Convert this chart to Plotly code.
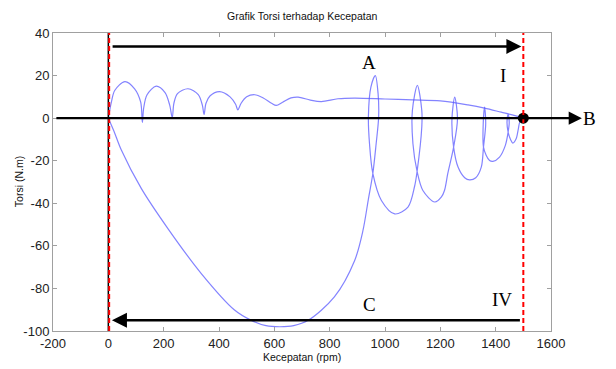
import plotly.graph_objects as go

# ---- data ----
upper_speed = [0, 11, 23, 60, 95, 117, 123, 128, 140, 173, 205, 222, 231, 237, 250, 288, 325, 340, 346,
               353, 368, 402, 440, 460, 468, 480, 500, 529, 560, 590, 607, 630, 660, 686, 730, 770, 830,
               890, 1000, 1100, 1200, 1300, 1360, 1420, 1470, 1500]
upper_torque = [0, 7.5, 13, 17.2, 13.8, 7.5, -2, 5, 11, 15, 12, 6, 0.2, 7, 11.5, 13.8, 11, 6, 1.7,
                7, 10.5, 12.5, 10, 6.5, 3.9, 7, 10, 11, 9.5, 7, 6, 7.5, 9.5, 9.9, 8.5, 7.8, 9.1,
                9.4, 9, 8.6, 8.1, 6.2, 4.7, 2.8, 1.2, 0]

lower_speed = [0, 20, 47, 119, 216, 336, 455, 517, 570, 620, 670, 722, 817, 890, 920, 940, 956, 968, 977, 975,
               965, 949, 940, 944, 956, 987, 1035, 1083, 1107, 1116, 1133, 1133, 1117, 1099, 1101, 1116,
               1137, 1180, 1204, 1215, 1227, 1248, 1262, 1252, 1242, 1248, 1264, 1288, 1306, 1328, 1348,
               1356, 1364, 1360, 1355, 1356, 1366, 1378, 1390, 1414, 1435, 1445, 1449, 1445, 1441, 1445,
               1454, 1462, 1474, 1482, 1487, 1500]
lower_torque = [0, -6, -15, -33, -52, -73, -90, -95, -97.5, -98, -97.5, -95, -84, -67, -53, -38, -26, -12, 0.5, 11.5,
                20, 14.6, 0.5, -12, -26, -38.7, -45, -41.8, -32, -25, -4, 3.6, 15.4, 3.6, -12, -25,
                -34, -39.4, -37, -34, -26, -13.6, -0.3, 9.9, -0.3, -13.6, -23, -28, -29, -28, -23,
                -13.6, -2.6, 5.2, -2.6, -13.6, -17.5, -19.9, -20.3, -18.3, -12.8, -6.6, -1.9, 1.7, -1.9, -6.6,
                -10.1, -11.7, -9.7, -5, -1.9, 0]

sync_speed = [1500]
sync_torque = [0]

x_ticks = [-200, 0, 200, 400, 600, 800, 1000, 1200, 1400, 1600]
x_tick_text = ["-200", "0", "200", "400", "600", "800", "1000", "1200", "1400", "1600"]
y_ticks = [-100, -80, -60, -40, -20, 0, 20, 40]
y_tick_text = ["-100", "-80", "-60", "-40", "-20", "0", "20", "40"]

curve_color = "rgba(90,90,255,0.75)"

fig = go.Figure()
fig.add_trace(go.Scatter(x=upper_speed, y=upper_torque, mode="lines",
                         line=dict(color=curve_color, width=1.2, shape="spline", smoothing=0.9),
                         showlegend=False, hoverinfo="skip"))
fig.add_trace(go.Scatter(x=lower_speed, y=lower_torque, mode="lines",
                         line=dict(color=curve_color, width=1.2, shape="spline", smoothing=0.9),
                         showlegend=False, hoverinfo="skip"))
fig.add_trace(go.Scatter(x=sync_speed, y=sync_torque, mode="markers",
                         marker=dict(color="black", size=11), showlegend=False, hoverinfo="skip",
                         cliponaxis=False))

# vertical lines
fig.add_shape(type="line", xref="x", yref="paper", x0=0, x1=0, y0=0, y1=1,
              line=dict(color="black", width=1.5))
fig.add_shape(type="line", xref="x", yref="paper", x0=3, x1=3, y0=0, y1=1,
              line=dict(color="red", width=2, dash="5px,3px"))
fig.add_shape(type="line", xref="x", yref="paper", x0=1500, x1=1500, y0=0, y1=1,
              line=dict(color="red", width=2, dash="5px,3px"))

serif = dict(family="Liberation Serif, Times New Roman, serif", size=19, color="black")
sans = "Liberation Sans, Arial, sans-serif"

annotations = [
    # top arrow (left -> right)
    dict(x=1493, y=33.7, ax=10, ay=33.7, xref="x", yref="y", axref="x", ayref="y",
         text="", showarrow=True, arrowhead=2, arrowsize=1.2, arrowwidth=2.5, arrowcolor="black"),
    # bottom arrow (right -> left)
    dict(x=13, y=-95, ax=1493, ay=-95, xref="x", yref="y", axref="x", ayref="y",
         text="", showarrow=True, arrowhead=2, arrowsize=1.2, arrowwidth=2.5, arrowcolor="black"),
    # horizontal zero arrow towards B
    dict(x=1.062, y=0, xref="paper", yref="y", ax=-527, ay=0, axref="pixel", ayref="pixel",
         text="", showarrow=True, arrowhead=2, arrowsize=1.2, arrowwidth=2.2, arrowcolor="black"),
    dict(x=943, y=26, xref="x", yref="y", text="A", showarrow=False, font=serif),
    dict(x=1428, y=20, xref="x", yref="y", text="I", showarrow=False, font=serif),
    dict(x=1.094, y=0, xref="paper", yref="y", text="B", showarrow=False, font=serif),
    dict(x=943, y=-87.6, xref="x", yref="y", text="C", showarrow=False, font=serif),
    dict(x=1424, y=-85, xref="x", yref="y", text="IV", showarrow=False, font=serif),
    dict(x=0.5, y=1.057, xref="paper", yref="paper", text="Grafik Torsi terhadap Kecepatan",
         xanchor="center", yanchor="middle",
         showarrow=False, font=dict(family=sans, size=10.5, color="#111")),
    dict(x=0.5, y=-0.087, xref="paper", yref="paper", text="Kecepatan (rpm)",
         xanchor="center", yanchor="middle",
         showarrow=False, font=dict(family=sans, size=10.5, color="#111")),
    dict(x=-0.068, y=0.5, xref="paper", yref="paper", text="Torsi (N.m)", textangle=-90,
         xanchor="center", yanchor="middle",
         showarrow=False, font=dict(family=sans, size=10.5, color="#111")),
]

axis_common = dict(showgrid=False, zeroline=False, showline=True, mirror="ticks",
                   linecolor="#a0a0a0", linewidth=1, ticks="inside", ticklen=4,
                   tickcolor="#a0a0a0", tickfont=dict(family=sans, size=13, color="#222"))

fig.update_layout(
    width=616, height=369,
    margin=dict(l=53, r=65, t=33, b=38),
    paper_bgcolor="white", plot_bgcolor="white",
    xaxis=dict(range=[-200, 1600], tickvals=x_ticks, ticktext=x_tick_text, **axis_common),
    yaxis=dict(range=[-100, 40], tickvals=y_ticks, ticktext=y_tick_text, **axis_common),
    annotations=annotations,
    showlegend=False,
)

fig.write_html("out.html")
